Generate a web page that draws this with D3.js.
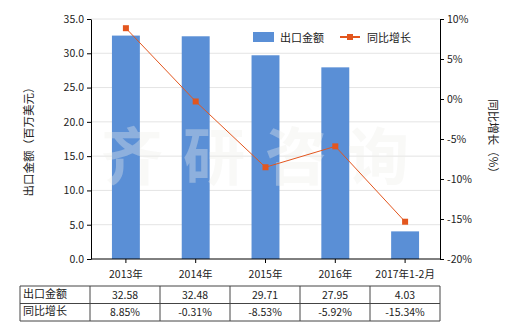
<!DOCTYPE html>
<html>
<head>
<meta charset="utf-8">
<script src="https://cdn.jsdelivr.net/npm/d3@7"></script>
<style>
body { margin: 0; background: #fff; }
text { font-family: "Noto Sans CJK SC", "Noto Sans", sans-serif; }
</style>
</head>
<body>
<script>
// 数据
var categories = ["2013年", "2014年", "2015年", "2016年", "2017年1-2月"];
var exportValues = [32.58, 32.48, 29.71, 27.95, 4.03];
var growthValues = [8.85, -0.31, -8.53, -5.92, -15.34];
var exportLabels = ["32.58", "32.48", "29.71", "27.95", "4.03"];
var growthLabels = ["8.85%", "-0.31%", "-8.53%", "-5.92%", "-15.34%"];
var leftTicks = [0, 5, 10, 15, 20, 25, 30, 35];
var rightTicks = [-20, -15, -10, -5, 0, 5, 10];

var width = 520, height = 330;
var plot = {left: 91, right: 440, top: 19, bottom: 259};
var barColor = "#5a8fd6", lineColor = "#e3561e";

var svg = d3.select("body").append("svg")
    .attr("width", width).attr("height", height);

var x = d3.scaleBand().domain(categories).range([plot.left, plot.right]).paddingInner(0.6).paddingOuter(0.3);
var y = d3.scaleLinear().domain([0, 35]).range([plot.bottom, plot.top]);
var y2 = d3.scaleLinear().domain([-20, 10]).range([plot.bottom, plot.top]);

// 网格线
svg.append("g").selectAll("line").data(leftTicks.slice(1)).join("line")
    .attr("x1", plot.left).attr("x2", plot.right)
    .attr("y1", d => y(d)).attr("y2", d => y(d))
    .attr("stroke", "#e4e4e4").attr("stroke-width", 1);

// 柱子
svg.append("g").selectAll("rect").data(exportValues).join("rect")
    .attr("x", (d, i) => x(categories[i])).attr("width", x.bandwidth())
    .attr("y", d => y(d)).attr("height", d => y(0) - y(d))
    .attr("fill", barColor);

// 水印（压在柱子上）
svg.append("text").attr("x", 265).attr("y", 180).attr("text-anchor", "middle")
    .attr("font-size", 62).attr("font-weight", "bold").attr("fill", "#eeeeea").attr("opacity", 0.35)
    .attr("letter-spacing", 20).text("齐研咨询");

// 折线
var line = d3.line().x((d, i) => x(categories[i]) + x.bandwidth() / 2).y(d => y2(d));
svg.append("path").datum(growthValues).attr("d", line)
    .attr("fill", "none").attr("stroke", lineColor).attr("stroke-width", 1);
svg.append("g").selectAll("rect").data(growthValues).join("rect")
    .attr("x", (d, i) => x(categories[i]) + x.bandwidth() / 2 - 3)
    .attr("y", d => y2(d) - 3).attr("width", 6).attr("height", 6)
    .attr("fill", lineColor);

// 坐标轴
var axisL = svg.append("g").attr("transform", "translate(" + plot.left + ",0)")
    .call(d3.axisLeft(y).tickValues(leftTicks).tickFormat(d3.format(".1f")).tickSize(4).tickSizeOuter(0));
var axisR = svg.append("g").attr("transform", "translate(" + plot.right + ",0)")
    .call(d3.axisRight(y2).tickValues(rightTicks).tickFormat(d => d + "%").tickSize(4).tickSizeOuter(0));
var axisB = svg.append("g").attr("transform", "translate(0," + plot.bottom + ")")
    .call(d3.axisBottom(x).tickSize(4).tickSizeOuter(0).tickPadding(8));
[axisL, axisR, axisB].forEach(function(g) {
    g.selectAll("text").attr("font-size", 10.5).attr("fill", "#222")
        .style("font-family", "'Noto Sans CJK SC', sans-serif");
    g.selectAll("line,path").attr("stroke", "#000");
});
axisB.select(".domain").attr("d", "M" + plot.left + ",0H" + plot.right);

// 轴标题
svg.append("text").attr("transform", "translate(33," + ((plot.top + plot.bottom) / 2) + ") rotate(-90)")
    .attr("text-anchor", "middle").attr("font-size", 11.5).attr("fill", "#222").text("出口金额（百万美元）");
svg.append("text").attr("transform", "translate(489," + ((plot.top + plot.bottom) / 2) + ") rotate(90)")
    .attr("text-anchor", "middle").attr("font-size", 11.5).attr("fill", "#222").text("同比增长（%）");

// 图例
var legend = svg.append("g");
legend.append("rect").attr("x", 253).attr("y", 32).attr("width", 21).attr("height", 10).attr("fill", barColor);
legend.append("text").attr("x", 280).attr("y", 41.5).attr("font-size", 11).attr("fill", "#222").text("出口金额");
legend.append("line").attr("x1", 340).attr("x2", 360).attr("y1", 37).attr("y2", 37).attr("stroke", lineColor).attr("stroke-width", 2);
legend.append("rect").attr("x", 347).attr("y", 34).attr("width", 6).attr("height", 6).attr("fill", lineColor);
legend.append("text").attr("x", 367).attr("y", 41.5).attr("font-size", 11).attr("fill", "#222").text("同比增长");

// 数据表
var table = {left: 20, firstCol: 90, top: 286, rowH: 17.5};
var colX = d3.scaleBand().domain(categories).range([table.firstCol, plot.right]);
var rows = [{name: "出口金额", vals: exportLabels}, {name: "同比增长", vals: growthLabels}];
var tg = svg.append("g");
var tBottom = table.top + table.rowH * rows.length;
[0, 1, 2].forEach(function(r) {
    tg.append("line").attr("x1", table.left).attr("x2", plot.right)
        .attr("y1", table.top + r * table.rowH).attr("y2", table.top + r * table.rowH)
        .attr("stroke", "#444");
});
[table.left].concat(categories.map(c => colX(c)), [plot.right]).forEach(function(cx) {
    tg.append("line").attr("x1", cx).attr("x2", cx).attr("y1", table.top).attr("y2", tBottom).attr("stroke", "#444");
});
rows.forEach(function(row, r) {
    var cy = table.top + r * table.rowH + table.rowH / 2 + 4;
    tg.append("text").attr("x", table.left + 3).attr("y", cy - 1).attr("font-size", 11).attr("fill", "#222").text(row.name);
    tg.selectAll(null).data(row.vals).join("text")
        .attr("x", (d, i) => colX(categories[i]) + colX.bandwidth() / 2).attr("y", cy)
        .attr("text-anchor", "middle").attr("font-size", 10.5).attr("fill", "#222").text(d => d);
});
</script>
</body>
</html>
